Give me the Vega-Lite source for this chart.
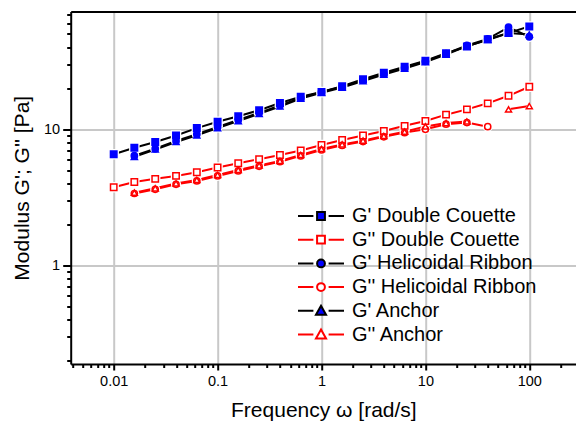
{
  "$schema": "https://vega.github.io/schema/vega-lite/v6.json",
  "width": 505.3,
  "height": 352.5,
  "autosize": "none",
  "padding": {"left": 70.7, "top": 11.5, "right": 0, "bottom": 57},
  "background": "white",
  "config": {
    "view": {"stroke": null},
    "font": "Liberation Sans",
    "legend": {"symbolFillColor": "#0000ff"},
    "axis": {"labelFont": "Liberation Sans", "titleFont": "Liberation Sans", "labelColor": "black", "titleColor": "black", "titleFontWeight": "normal"}
  },
  "data": {
    "values": [
      {"f": 0.01, "v": 6.56, "s": "G' Double Couette", "g": "a"},
      {"f": 0.0158, "v": 7.33, "s": "G' Double Couette", "g": "a"},
      {"f": 0.0251, "v": 8.07, "s": "G' Double Couette", "g": "a"},
      {"f": 0.0398, "v": 9.0, "s": "G' Double Couette", "g": "a"},
      {"f": 0.0631, "v": 10.2, "s": "G' Double Couette", "g": "a"},
      {"f": 0.1, "v": 11.35, "s": "G' Double Couette", "g": "a"},
      {"f": 0.158, "v": 12.45, "s": "G' Double Couette", "g": "a"},
      {"f": 0.251, "v": 13.8, "s": "G' Double Couette", "g": "a"},
      {"f": 0.398, "v": 15.6, "s": "G' Double Couette", "g": "a"},
      {"f": 0.631, "v": 17.3, "s": "G' Double Couette", "g": "a"},
      {"f": 1, "v": 18.75, "s": "G' Double Couette", "g": "a"},
      {"f": 1.58, "v": 20.7, "s": "G' Double Couette", "g": "a"},
      {"f": 2.51, "v": 23.3, "s": "G' Double Couette", "g": "a"},
      {"f": 3.98, "v": 26.0, "s": "G' Double Couette", "g": "a"},
      {"f": 6.31, "v": 28.8, "s": "G' Double Couette", "g": "a"},
      {"f": 10, "v": 31.8, "s": "G' Double Couette", "g": "a"},
      {"f": 15.8, "v": 36.1, "s": "G' Double Couette", "g": "a"},
      {"f": 25.1, "v": 40.4, "s": "G' Double Couette", "g": "a"},
      {"f": 39.8, "v": 45.7, "s": "G' Double Couette", "g": "a"},
      {"f": 63.1, "v": 50.8, "s": "G' Double Couette", "g": "a"},
      {"f": 100, "v": 56.8, "s": "G' Double Couette", "g": "a"},

      {"f": 0.01, "v": 3.76, "s": "G'' Double Couette", "g": "a"},
      {"f": 0.0158, "v": 4.11, "s": "G'' Double Couette", "g": "a"},
      {"f": 0.0251, "v": 4.33, "s": "G'' Double Couette", "g": "a"},
      {"f": 0.0398, "v": 4.55, "s": "G'' Double Couette", "g": "a"},
      {"f": 0.0631, "v": 4.84, "s": "G'' Double Couette", "g": "a"},
      {"f": 0.1, "v": 5.25, "s": "G'' Double Couette", "g": "a"},
      {"f": 0.158, "v": 5.63, "s": "G'' Double Couette", "g": "a"},
      {"f": 0.251, "v": 6.03, "s": "G'' Double Couette", "g": "a"},
      {"f": 0.398, "v": 6.48, "s": "G'' Double Couette", "g": "a"},
      {"f": 0.631, "v": 7.0, "s": "G'' Double Couette", "g": "a"},
      {"f": 1, "v": 7.67, "s": "G'' Double Couette", "g": "a"},
      {"f": 1.58, "v": 8.35, "s": "G'' Double Couette", "g": "a"},
      {"f": 2.51, "v": 9.0, "s": "G'' Double Couette", "g": "a"},
      {"f": 3.98, "v": 9.72, "s": "G'' Double Couette", "g": "a"},
      {"f": 6.31, "v": 10.6, "s": "G'' Double Couette", "g": "a"},
      {"f": 10, "v": 11.5, "s": "G'' Double Couette", "g": "a"},
      {"f": 15.8, "v": 12.8, "s": "G'' Double Couette", "g": "a"},
      {"f": 25.1, "v": 14.0, "s": "G'' Double Couette", "g": "a"},
      {"f": 39.8, "v": 15.5, "s": "G'' Double Couette", "g": "a"},
      {"f": 63.1, "v": 17.6, "s": "G'' Double Couette", "g": "a"},
      {"f": 100, "v": 20.5, "s": "G'' Double Couette", "g": "a"},

      {"f": 0.0158, "v": 6.4, "s": "G' Helicoidal Ribbon", "g": "a"},
      {"f": 0.0251, "v": 7.2, "s": "G' Helicoidal Ribbon", "g": "a"},
      {"f": 0.0398, "v": 8.2, "s": "G' Helicoidal Ribbon", "g": "a"},
      {"f": 0.0631, "v": 9.2, "s": "G' Helicoidal Ribbon", "g": "a"},
      {"f": 0.1, "v": 10.4, "s": "G' Helicoidal Ribbon", "g": "a"},
      {"f": 0.158, "v": 11.7, "s": "G' Helicoidal Ribbon", "g": "a"},
      {"f": 0.251, "v": 13.2, "s": "G' Helicoidal Ribbon", "g": "a"},
      {"f": 0.398, "v": 14.95, "s": "G' Helicoidal Ribbon", "g": "a"},
      {"f": 0.631, "v": 17.0, "s": "G' Helicoidal Ribbon", "g": "a"},
      {"f": 1, "v": 18.8, "s": "G' Helicoidal Ribbon", "g": "a"},
      {"f": 1.58, "v": 20.5, "s": "G' Helicoidal Ribbon", "g": "a"},
      {"f": 2.51, "v": 22.9, "s": "G' Helicoidal Ribbon", "g": "a"},
      {"f": 3.98, "v": 25.6, "s": "G' Helicoidal Ribbon", "g": "a"},
      {"f": 6.31, "v": 28.3, "s": "G' Helicoidal Ribbon", "g": "a"},
      {"f": 10, "v": 31.5, "s": "G' Helicoidal Ribbon", "g": "a"},
      {"f": 15.8, "v": 35.8, "s": "G' Helicoidal Ribbon", "g": "a"},
      {"f": 25.1, "v": 41.2, "s": "G' Helicoidal Ribbon", "g": "a"},
      {"f": 39.8, "v": 46.0, "s": "G' Helicoidal Ribbon", "g": "a"},
      {"f": 63.1, "v": 56.0, "s": "G' Helicoidal Ribbon", "g": "a"},
      {"f": 100, "v": 47.7, "s": "G' Helicoidal Ribbon", "g": "a"},

      {"f": 0.0158, "v": 3.38, "s": "G'' Helicoidal Ribbon", "g": "a"},
      {"f": 0.0251, "v": 3.63, "s": "G'' Helicoidal Ribbon", "g": "a"},
      {"f": 0.0398, "v": 3.95, "s": "G'' Helicoidal Ribbon", "g": "a"},
      {"f": 0.0631, "v": 4.18, "s": "G'' Helicoidal Ribbon", "g": "a"},
      {"f": 0.1, "v": 4.55, "s": "G'' Helicoidal Ribbon", "g": "a"},
      {"f": 0.158, "v": 4.95, "s": "G'' Helicoidal Ribbon", "g": "a"},
      {"f": 0.251, "v": 5.35, "s": "G'' Helicoidal Ribbon", "g": "a"},
      {"f": 0.398, "v": 5.78, "s": "G'' Helicoidal Ribbon", "g": "a"},
      {"f": 0.631, "v": 6.38, "s": "G'' Helicoidal Ribbon", "g": "a"},
      {"f": 1, "v": 7.05, "s": "G'' Helicoidal Ribbon", "g": "a"},
      {"f": 1.58, "v": 7.62, "s": "G'' Helicoidal Ribbon", "g": "a"},
      {"f": 2.51, "v": 8.12, "s": "G'' Helicoidal Ribbon", "g": "a"},
      {"f": 3.98, "v": 8.8, "s": "G'' Helicoidal Ribbon", "g": "a"},
      {"f": 6.31, "v": 9.45, "s": "G'' Helicoidal Ribbon", "g": "a"},
      {"f": 10, "v": 10.0, "s": "G'' Helicoidal Ribbon", "g": "a"},
      {"f": 15.8, "v": 10.9, "s": "G'' Helicoidal Ribbon", "g": "a"},
      {"f": 25.1, "v": 11.2, "s": "G'' Helicoidal Ribbon", "g": "a"},
      {"f": 39.8, "v": 10.45, "s": "G'' Helicoidal Ribbon", "g": "a"},

      {"f": 0.0158, "v": 6.29, "s": "G' Anchor", "g": "a"},
      {"f": 0.0251, "v": 7.11, "s": "G' Anchor", "g": "a"},
      {"f": 0.0398, "v": 8.07, "s": "G' Anchor", "g": "a"},
      {"f": 0.0631, "v": 9.03, "s": "G' Anchor", "g": "a"},
      {"f": 0.1, "v": 10.2, "s": "G' Anchor", "g": "a"},
      {"f": 0.158, "v": 11.5, "s": "G' Anchor", "g": "a"},
      {"f": 0.251, "v": 13.0, "s": "G' Anchor", "g": "a"},
      {"f": 0.398, "v": 14.7, "s": "G' Anchor", "g": "a"},
      {"f": 0.631, "v": 16.8, "s": "G' Anchor", "g": "a"},
      {"f": 1, "v": 18.5, "s": "G' Anchor", "g": "a"},
      {"f": 1.58, "v": 20.2, "s": "G' Anchor", "g": "a"},
      {"f": 2.51, "v": 22.6, "s": "G' Anchor", "g": "a"},
      {"f": 3.98, "v": 25.2, "s": "G' Anchor", "g": "a"},
      {"f": 6.31, "v": 27.9, "s": "G' Anchor", "g": "a"},
      {"f": 10, "v": 31.1, "s": "G' Anchor", "g": "a"},
      {"f": 15.8, "v": 35.3, "s": "G' Anchor", "g": "a"},
      {"f": 25.1, "v": 40.8, "s": "G' Anchor", "g": "a"},
      {"f": 39.8, "v": 45.2, "s": "G' Anchor", "g": "a"},
      {"f": 63.1, "v": 50.8, "s": "G' Anchor", "g": "a"},
      {"f": 100, "v": 49.5, "s": "G' Anchor", "g": "a"},

      {"f": 0.0158, "v": 3.43, "s": "G'' Anchor", "g": "a"},
      {"f": 0.0251, "v": 3.69, "s": "G'' Anchor", "g": "a"},
      {"f": 0.0398, "v": 4.01, "s": "G'' Anchor", "g": "a"},
      {"f": 0.0631, "v": 4.25, "s": "G'' Anchor", "g": "a"},
      {"f": 0.1, "v": 4.62, "s": "G'' Anchor", "g": "a"},
      {"f": 0.158, "v": 5.03, "s": "G'' Anchor", "g": "a"},
      {"f": 0.251, "v": 5.43, "s": "G'' Anchor", "g": "a"},
      {"f": 0.398, "v": 5.86, "s": "G'' Anchor", "g": "a"},
      {"f": 0.631, "v": 6.48, "s": "G'' Anchor", "g": "a"},
      {"f": 1, "v": 7.17, "s": "G'' Anchor", "g": "a"},
      {"f": 1.58, "v": 7.74, "s": "G'' Anchor", "g": "a"},
      {"f": 2.51, "v": 8.25, "s": "G'' Anchor", "g": "a"},
      {"f": 3.98, "v": 8.93, "s": "G'' Anchor", "g": "a"},
      {"f": 6.31, "v": 9.6, "s": "G'' Anchor", "g": "a"},
      {"f": 10, "v": 10.5, "s": "G'' Anchor", "g": "a"},
      {"f": 15.8, "v": 11.1, "s": "G'' Anchor", "g": "a"},
      {"f": 25.1, "v": 11.4, "s": "G'' Anchor", "g": "a"},
      {"f": 63.1, "v": 14.0, "s": "G'' Anchor", "g": "b"},
      {"f": 100, "v": 14.8, "s": "G'' Anchor", "g": "b"}
    ]
  },
  "encoding": {
    "x": {
      "field": "f", "type": "quantitative",
      "scale": {"type": "log", "domain": [0.003856, 281.5], "nice": false},
      "axis": null
    },
    "y": {
      "field": "v", "type": "quantitative",
      "scale": {"type": "log", "domain": [0.19, 73.07], "nice": false},
      "axis": null
    }
  },
  "layer": [
    {
      "mark": {"type": "line", "strokeWidth": 2, "clip": true},
      "encoding": {
        "x": {
          "field": "f", "type": "quantitative",
          "axis": {
            "orient": "bottom",
            "values": [0.004,0.005,0.006,0.007,0.008,0.009,0.01,0.02,0.03,0.04,0.05,0.06,0.07,0.08,0.09,0.1,0.2,0.3,0.4,0.5,0.6,0.7,0.8,0.9,1,2,3,4,5,6,7,8,9,10,20,30,40,50,60,70,80,90,100,200],
            "format": "~g",
            "labelExpr": "abs(log(datum.value)/LN10 - round(log(datum.value)/LN10)) < 0.001 ? datum.label : ''",
            "labelOverlap": false,
            "labelFlush": false,
            "labelFontSize": 14.5,
            "labelPadding": 4,
            "tickSize": {"condition": {"test": "abs(log(datum.value)/LN10 - round(log(datum.value)/LN10)) < 0.001", "value": 6}, "value": 3.5},
            "tickColor": "black",
            "tickWidth": 2,
            "domainColor": "black",
            "domainWidth": 2,
            "grid": true,
            "gridColor": "#c8c8c8",
            "gridWidth": 2,
            "gridOpacity": {"condition": {"test": "abs(log(datum.value)/LN10 - round(log(datum.value)/LN10)) < 0.001", "value": 1}, "value": 0},
            "title": "Frequency ω [rad/s]",
            "titleFontSize": 21,
            "titleBaseline": "middle",
            "titleY": 46
          }
        },
        "y": {
          "field": "v", "type": "quantitative",
          "axis": {
            "orient": "left",
            "values": [0.2,0.3,0.4,0.5,0.6,0.7,0.8,0.9,1,2,3,4,5,6,7,8,9,10,20,30,40,50,60,70],
            "format": "~g",
            "labelExpr": "abs(log(datum.value)/LN10 - round(log(datum.value)/LN10)) < 0.001 ? datum.label : ''",
            "labelOverlap": false,
            "labelFlush": false,
            "labelFontSize": 14.5,
            "labelPadding": 3,
            "tickSize": {"condition": {"test": "abs(log(datum.value)/LN10 - round(log(datum.value)/LN10)) < 0.001", "value": 8}, "value": 4},
            "tickColor": "black",
            "tickWidth": 2,
            "domainColor": "black",
            "domainWidth": 2,
            "grid": true,
            "gridColor": "#c8c8c8",
            "gridWidth": 2,
            "gridOpacity": {"condition": {"test": "abs(log(datum.value)/LN10 - round(log(datum.value)/LN10)) < 0.001", "value": 1}, "value": 0},
            "title": "Modulus G'; G'' [Pa]",
            "titleFontSize": 21,
            "titleBaseline": "middle",
            "titleX": -47.7
          }
        },
        "color": {
          "field": "s", "type": "nominal",
          "scale": {"domain": ["G' Double Couette", "G'' Double Couette", "G' Helicoidal Ribbon", "G'' Helicoidal Ribbon", "G' Anchor", "G'' Anchor"], "range": ["black", "red", "black", "red", "black", "red"]},
          "legend": null
        },
        "detail": {"field": "g"}
      }
    },
    {
      "mark": {"type": "point", "filled": true, "strokeWidth": 0, "color": "white", "opacity": 1, "clip": true},
      "encoding": {
        "shape": {
          "field": "s", "type": "nominal",
          "scale": {"domain": ["G' Double Couette", "G'' Double Couette", "G' Helicoidal Ribbon", "G'' Helicoidal Ribbon", "G' Anchor", "G'' Anchor"], "range": ["square", "square", "circle", "circle", "triangle-up", "triangle-up"]},
          "legend": null
        },
        "size": {
          "field": "s", "type": "nominal",
          "scale": {"domain": ["G' Double Couette", "G'' Double Couette", "G' Helicoidal Ribbon", "G'' Helicoidal Ribbon", "G' Anchor", "G'' Anchor"], "range": [110, 100, 110, 100, 220, 210]},
          "legend": null
        }
      }
    },
    {
      "mark": {"type": "point", "strokeWidth": 1.5, "opacity": 1, "clip": true},
      "encoding": {
        "shape": {
          "field": "s", "type": "nominal",
          "scale": {"domain": ["G' Double Couette", "G'' Double Couette", "G' Helicoidal Ribbon", "G'' Helicoidal Ribbon", "G' Anchor", "G'' Anchor"], "range": ["square", "square", "circle", "circle", "triangle-up", "triangle-up"]},
          "legend": null
        },
        "fill": {
          "field": "s", "type": "nominal",
          "scale": {"domain": ["G' Double Couette", "G'' Double Couette", "G' Helicoidal Ribbon", "G'' Helicoidal Ribbon", "G' Anchor", "G'' Anchor"], "range": ["#0000ff", "white", "#0000ff", "white", "#0000ff", "white"]},
          "legend": null
        },
        "stroke": {
          "field": "s", "type": "nominal",
          "scale": {"domain": ["G' Double Couette", "G'' Double Couette", "G' Helicoidal Ribbon", "G'' Helicoidal Ribbon", "G' Anchor", "G'' Anchor"], "range": ["#0000ff", "red", "#0000ff", "red", "#0000ff", "red"]},
          "legend": null
        },
        "size": {
          "field": "s", "type": "nominal",
          "scale": {"domain": ["G' Double Couette", "G'' Double Couette", "G' Helicoidal Ribbon", "G'' Helicoidal Ribbon", "G' Anchor", "G'' Anchor"], "range": [42, 36, 45, 40, 100, 95]},
          "legend": null
        }
      }
    },
    {
      "mark": {"type": "point", "filled": false, "opacity": 0},
      "encoding": {
        "shape": {
          "field": "s", "type": "nominal",
          "scale": {"domain": ["G' Double Couette", "G'' Double Couette", "G' Helicoidal Ribbon", "G'' Helicoidal Ribbon", "G' Anchor", "G'' Anchor"], "range": [
            "M-2.875,0H-0.95M0.95,0H2.875M-0.49,-0.49H0.49V0.49H-0.49Z",
            "M-2.875,0H-0.95M0.95,0H2.875M-0.49,-0.49H0.49V0.49H-0.49Z",
            "M-2.875,0H-0.95M0.95,0H2.875M0.49,0A0.49,0.49,0,1,1,-0.49,0A0.49,0.49,0,1,1,0.49,0Z",
            "M-2.875,0H-0.95M0.95,0H2.875M0.49,0A0.49,0.49,0,1,1,-0.49,0A0.49,0.49,0,1,1,0.49,0Z",
            "M-2.875,0H-0.95M0.95,0H2.875M0,-0.63L0.63,0.49L-0.63,0.49Z",
            "M-2.875,0H-0.95M0.95,0H2.875M0,-0.63L0.63,0.49L-0.63,0.49Z"
          ]}
        },
        "fill": {
          "field": "s", "type": "nominal",
          "scale": {"domain": ["G' Double Couette", "G'' Double Couette", "G' Helicoidal Ribbon", "G'' Helicoidal Ribbon", "G' Anchor", "G'' Anchor"], "range": ["#0000ff", "white", "#0000ff", "white", "#0000ff", "white"]}
        },
        "stroke": {
          "field": "s", "type": "nominal",
          "scale": {"domain": ["G' Double Couette", "G'' Double Couette", "G' Helicoidal Ribbon", "G'' Helicoidal Ribbon", "G' Anchor", "G'' Anchor"], "range": ["black", "red", "black", "red", "black", "red"]},
          "legend": {
            "orient": "none",
            "legendX": 240.3,
            "legendY": 194.5,
            "title": null,
            "padding": 0,
            "symbolSize": 256,
            "symbolStrokeWidth": 2,
            "symbolOpacity": 1,
            "labelFont": "Liberation Sans",
            "labelFontSize": 20,
            "labelColor": "black",
            "labelOffset": 21,
            "labelLimit": 400,
            "rowPadding": 3.7
          }
        }
      }
    },
    {
      "mark": {"type": "point", "opacity": 0},
      "encoding": {
        "x": {
          "field": "f", "type": "quantitative",
          "axis": {"orient": "top", "labels": false, "ticks": false, "grid": false, "domainColor": "black", "domainWidth": 2, "title": null}
        }
      }
    }
  ],
  "resolve": {
    "scale": {"color": "independent", "shape": "independent", "fill": "independent", "stroke": "independent", "size": "independent"},
    "axis": {"x": "independent", "y": "independent"}
  }
}
